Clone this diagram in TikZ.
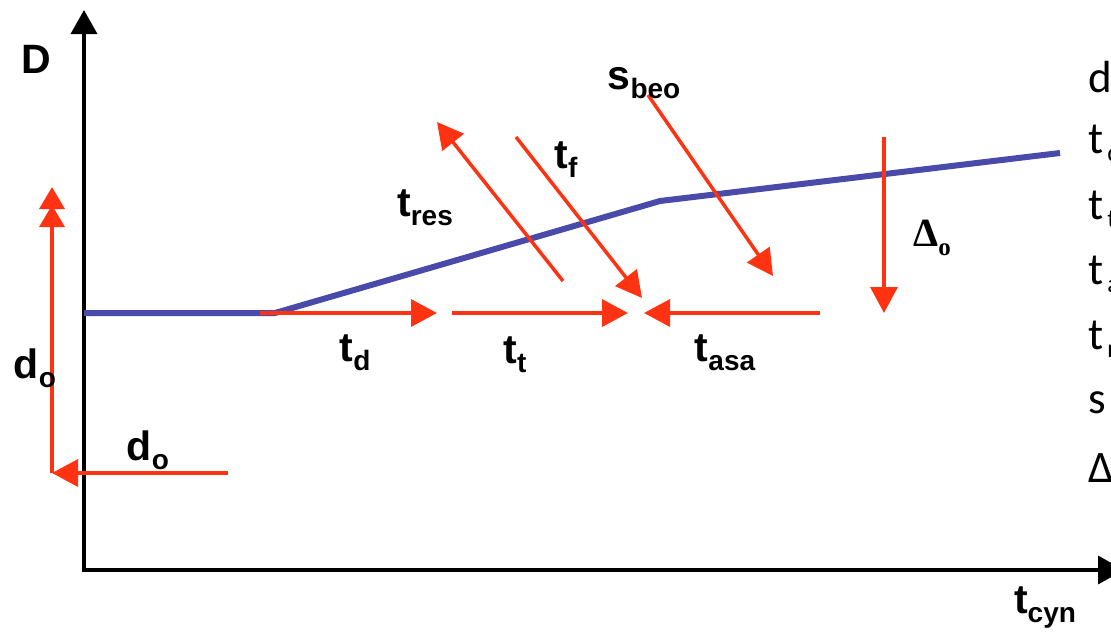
\documentclass[tikz,border=0pt]{standalone}
\usepackage{fontspec}
\setmainfont{Liberation Sans}
\newfontfamily\chuTron{Liberation Serif}
\newfontfamily\chuPhai{Carlito}
\usetikzlibrary{arrows.meta}
\definecolor{doCam}{HTML}{FF3311}
\definecolor{xanhTim}{HTML}{4A4AAA}
% ky hieu co chi so duoi
\newcommand{\kyhieu}[2]{\textbf{#1\raisebox{-9pt}{\fontsize{28}{30}\selectfont #2}}}
\newcommand{\kyphai}[2]{#1\kern4pt\raisebox{-8pt}{\fontsize{26}{28}\selectfont #2}}

\begin{document}
\begin{tikzpicture}[x=1pt, y=-1pt, font=\fontsize{41}{46}\selectfont,
	truc/.style={line width=3.5pt},
	muiten/.style={color=doCam, line width=3.5pt, -{Triangle[length=26pt,width=27pt]}},
	nhan/.style={inner sep=0pt}]
	\useasboundingbox (0,0) rectangle (1111,633);
	\clip (0,0) rectangle (1111,633);
	
	% Truc toa do
	\coordinate (O) at (84,570);
	\coordinate (dinhY) at (84,10);
	\coordinate (dinhX) at (1124,570);
	\draw[truc, {Triangle[length=24pt,width=26pt]}-{Triangle[length=26pt,width=28pt]}] (dinhY) -- (O) -- (dinhX);
	\node[nhan] (nhanD) at (36,59) {\textbf{D}};
	\node[nhan] (nhanT) at (1045,608) {\kyhieu{t}{cyn}};
	
	% Duong D(t)
	\coordinate (b0) at (84,313);
	\coordinate (b1) at (275,313);
	\coordinate (b2) at (660,201);
	\coordinate (b3) at (1060,153);
	\draw[xanhTim, line width=6pt] (b0) -- (b1) -- (b2) -- (b3);
	
	% Cac mui ten ngang
	\coordinate (d1) at (260,313);
	\coordinate (d2) at (437,313);
	\coordinate (t1) at (452,313);
	\coordinate (t2) at (628,313);
	\coordinate (a1) at (820,313);
	\coordinate (a2) at (644,313);
	\draw[muiten] (d1) -- (d2);
	\draw[muiten] (t1) -- (t2);
	\draw[muiten] (a1) -- (a2);
	\node[nhan] (nhanTd) at (355,353) {\kyhieu{t}{d}};
	\node[nhan] (nhanTt) at (515,355) {\kyhieu{t}{t}};
	\node[nhan] (nhanTasa) at (725,353) {\kyhieu{t}{asa}};
	
	% Cac mui ten xien
	\coordinate (r1) at (563,281);
	\coordinate (r2) at (437,122);
	\coordinate (f1) at (516,137);
	\coordinate (f2) at (642,298);
	\coordinate (s1) at (648,95);
	\coordinate (s2) at (773,276);
	\draw[muiten] (r1) -- (r2);
	\draw[muiten] (f1) -- (f2);
	\draw[muiten] (s1) -- (s2);
	\node[nhan] (nhanTres) at (425,208) {\kyhieu{t}{res}};
	\node[nhan] (nhanTf) at (566,160) {\kyhieu{t}{f}};
	\node[nhan] (nhanS) at (644,83) {\kyhieu{s}{beo}};
	
	% Delta
	\coordinate (e1) at (884,137);
	\coordinate (e2) at (884,313);
	\draw[muiten] (e1) -- (e2);
	\node[nhan, font=\chuTron\bfseries\fontsize{40}{44}\selectfont] (nhanDelta) at (932,238) {Δ\raisebox{-9pt}{\fontsize{25}{28}\selectfont o}};
	
	% d_o
	\coordinate (g1) at (228,473);
	\coordinate (g2) at (52,473);
	\coordinate (g3) at (52,187);
	\draw[muiten] (g1) -- (g2);
	\draw[color=doCam, line width=3.5pt, -{Triangle[length=22pt,width=25pt,sep=-4pt]Triangle[length=22pt,width=25pt]}] (g2) -- (g3);
	\node[nhan] (nhanDo1) at (35,368) {\kyhieu{d}{o}};
	\node[nhan] (nhanDo2) at (148,450) {\kyhieu{d}{o}};
	
	% Cot ghi chu ben phai
	\begin{scope}[every node/.style={anchor=base west, inner sep=0pt, font=\chuPhai\fontsize{45}{46}\selectfont}]
		\node (gc1) at (1088,92) {\kyphai{d}{o}};
		\node (gc2) at (1088,153) {\kyphai{t}{d}};
		\node (gc3) at (1088,219) {\kyphai{t}{t}};
		\node (gc4) at (1088,284) {\kyphai{t}{asa}};
		\node (gc5) at (1088,349) {\kyphai{t}{res}};
		\node (gc6) at (1088,413) {\kyphai{s}{beo}};
		\node (gc7) at (1088,482) {Δ\kyphai{}{o}};
	\end{scope}
\end{tikzpicture}
\end{document}
